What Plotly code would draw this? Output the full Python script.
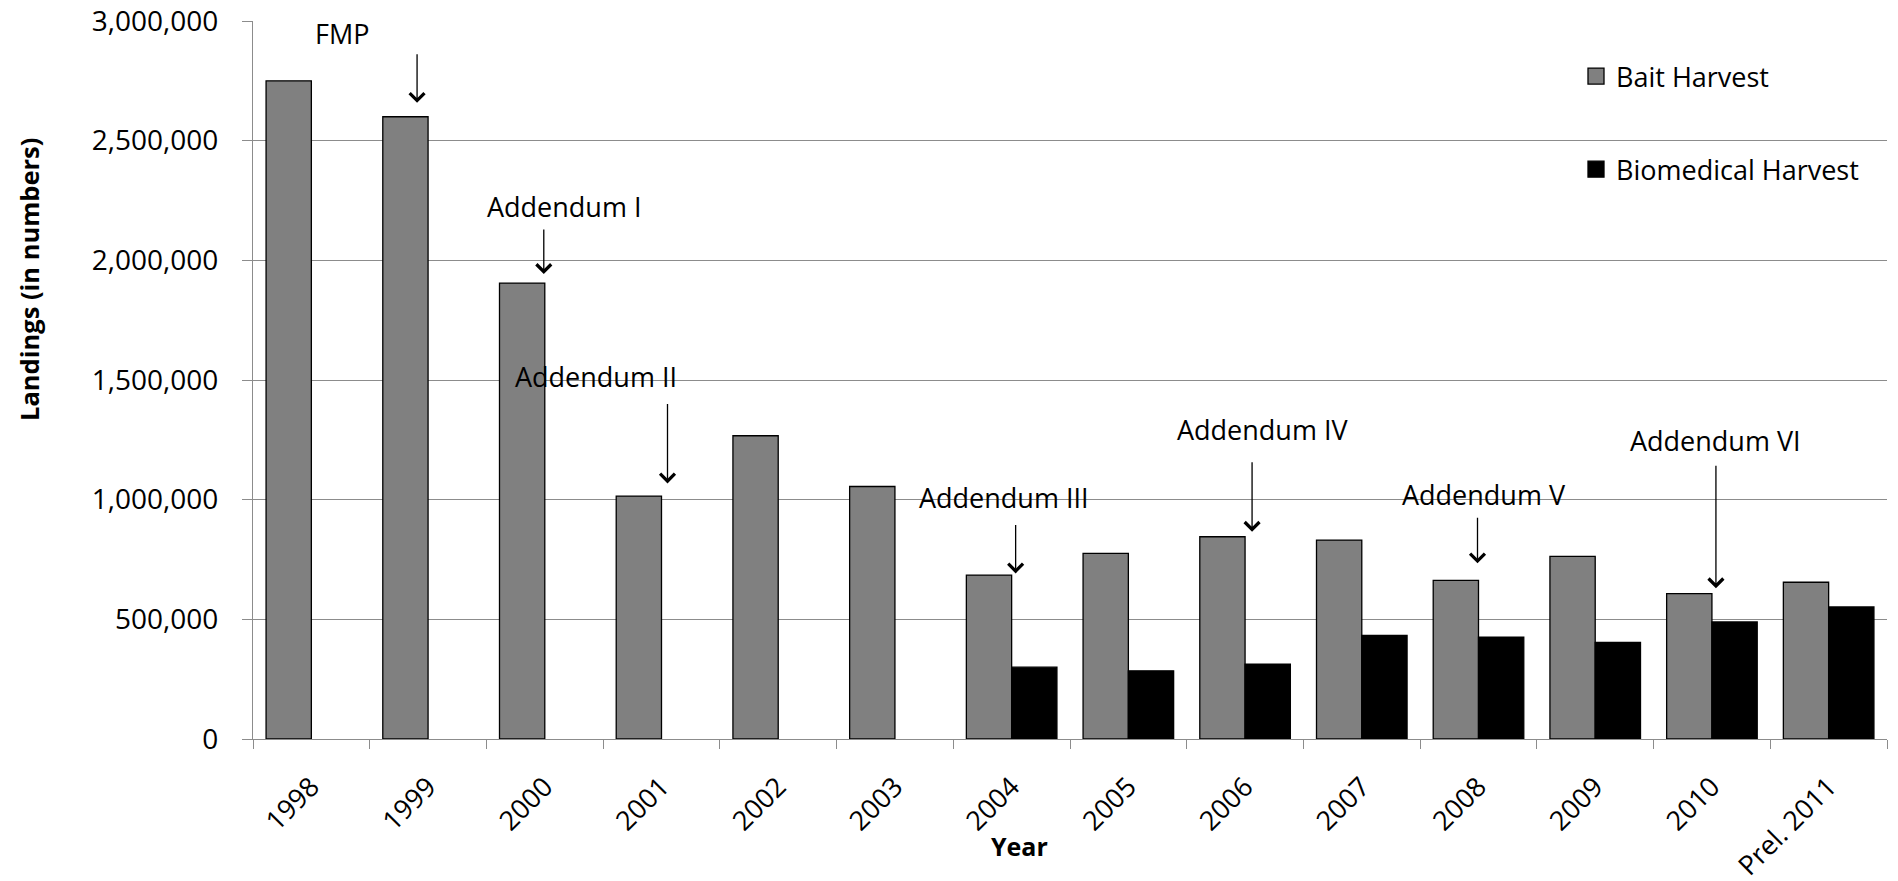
import plotly.graph_objects as go

# ---- data ----
years = ["1998", "1999", "2000", "2001", "2002", "2003", "2004", "2005",
         "2006", "2007", "2008", "2009", "2010", "Prel. 2011"]
bait_harvest = [2750000, 2600000, 1905000, 1015000, 1267000, 1055000, 685000,
                776000, 845000, 831000, 663000, 763000, 607000, 655000]
biomedical_harvest = [None, None, None, None, None, None, 300000, 285000,
                      313000, 433000, 426000, 404000, 489000, 552000]
event_labels = ["FMP", "Addendum I", "Addendum II", "Addendum III",
                "Addendum IV", "Addendum V", "Addendum VI"]
event_years = ["1999", "2000", "2001", "2004", "2006", "2008", "2010"]

# ---- layout geometry (pixels) ----
W, H = 1898, 881
L, R, T, B = 253, 1887, 21, 739
FONT = "Open Sans"

def px(xp):
    return (xp - L) / (R - L)

def py(yp):
    return (B - yp) / (B - T)

# arrow tips (value units) and offsets, text centres in pixels
arrow_tip_val = [2658000, 1943000, 1068000, 692000, 866000, 734000, 630000]
arrow_xshift = [-11, -1, 6, 4, 7, -1, 4]
arrow_len = [50, 46, 81, 50, 71, 47, 124]
text_pos = [(341.5, 34), (563.5, 207), (596, 376), (1003.5, 497.5),
            (1262, 429), (1484, 494.5), (1715, 440.5)]

fig = go.Figure()
fig.add_trace(go.Bar(x=years, y=bait_harvest, name="Bait Harvest",
                     marker=dict(color="#808080", line=dict(color="black", width=1.3)),
                     showlegend=False))
fig.add_trace(go.Bar(x=years, y=biomedical_harvest, name="Biomedical Harvest",
                     marker=dict(color="black", line=dict(color="black", width=1.3)),
                     showlegend=False))
# legend entries
fig.add_trace(go.Scatter(x=[None], y=[None], mode="markers", name="Bait Harvest",
                         legendgroup="a",
                         marker=dict(symbol="square", size=18, color="#808080",
                                     line=dict(color="black", width=1.3))))
fig.add_trace(go.Scatter(x=[None], y=[None], mode="markers", name="Biomedical Harvest",
                         legendgroup="b",
                         marker=dict(symbol="square", size=18, color="black",
                                     line=dict(color="black", width=1.3))))

annotations = []
for lab, yr, tip, xs, ln, (tx, ty) in zip(event_labels, event_years, arrow_tip_val,
                                           arrow_xshift, arrow_len, text_pos):
    annotations.append(dict(x=years.index(yr), y=tip, xref="x", yref="y", xshift=xs,
                            text="", showarrow=True, arrowhead=4, arrowsize=2.2,
                            arrowwidth=1.3, arrowcolor="black",
                            axref="pixel", ayref="pixel", ax=0, ay=-ln))
    annotations.append(dict(x=px(tx), y=py(ty), xref="paper", yref="paper", text=lab,
                            showarrow=False, xanchor="center", yanchor="middle",
                            font=dict(family=FONT, size=27, color="black")))

annotations.append(dict(x=px(29), y=py(280), xref="paper", yref="paper",
                        text="<b>Landings (in numbers)</b>", textangle=-90,
                        showarrow=False, xanchor="center", yanchor="middle",
                        font=dict(family=FONT, size=25.5, color="black")))
annotations.append(dict(x=px(1019.5), y=py(846), xref="paper", yref="paper",
                        text="<b>Year</b>", showarrow=False,
                        xanchor="center", yanchor="middle",
                        font=dict(family=FONT, size=25, color="black")))

fig.update_layout(
    width=W, height=H,
    margin=dict(l=L, r=W - R, t=T, b=H - B, pad=0, autoexpand=False),
    paper_bgcolor="white", plot_bgcolor="white",
    barmode="group", bargap=0.224, bargroupgap=0,
    font=dict(family=FONT, size=26, color="black"),
    showlegend=True,
    legend=dict(x=px(1576), y=py(52), xanchor="left", yanchor="top",
                bgcolor="rgba(0,0,0,0)", tracegroupgap=55,
                font=dict(family=FONT, size=27, color="black"),
                traceorder="grouped"),
    annotations=annotations,
)
fig.update_xaxes(type="category", tickson="boundaries", ticks="outside", ticklen=9,
                 tickcolor="#8c8c8c", tickwidth=1.3, showline=True,
                 linecolor="#8c8c8c", linewidth=1.3, showgrid=False, automargin=False,
                 tickangle=-45, ticklabelstandoff=20,
                 tickfont=dict(family=FONT, size=27, color="black"),
                 range=[-0.5, len(years) - 0.5])
fig.update_yaxes(range=[0, 3000000], dtick=500000, tickformat=",d",
                 ticks="outside", ticklen=10, tickcolor="#8c8c8c", tickwidth=1.3,
                 showline=True, linecolor="#8c8c8c", linewidth=1.3,
                 showgrid=True, gridcolor="#8c8c8c", gridwidth=1.3,
                 zeroline=False, ticklabelstandoff=18, automargin=False,
                 tickfont=dict(family=FONT, size=28, color="black"))

fig.write_html("out.html")
